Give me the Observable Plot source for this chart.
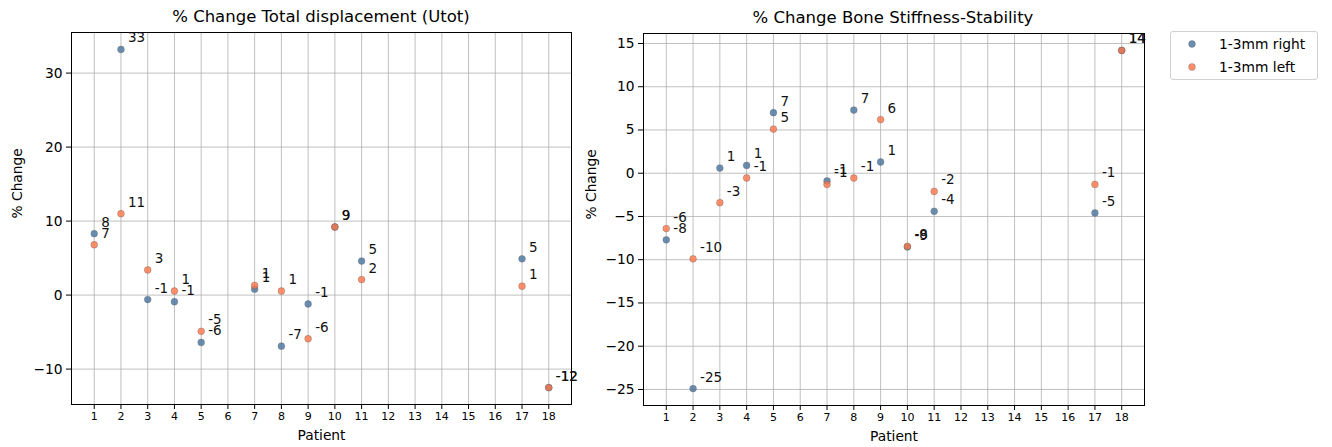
<!DOCTYPE html>
<html>
<head>
<meta charset="utf-8">
<script src="https://cdn.jsdelivr.net/npm/d3@7"></script>
<script src="https://cdn.jsdelivr.net/npm/@observablehq/plot@0.6"></script>
<style>
  html, body { margin: 0; padding: 0; background: #fff; }
  #root { position: relative; width: 1332px; height: 447px; font-family: "DejaVu Sans", sans-serif; color: #000; }
  .panel { position: absolute; top: 0; }
  .title { position: absolute; width: 600px; font-size: 16.5px; text-align: center; white-space: nowrap; line-height: 20px; }
  .legend { position: absolute; left: 1170px; top: 31px; width: 148px; height: 49px; border: 1px solid #d0d0d0; border-radius: 3px; box-sizing: border-box; font-size: 13.8px; background: #fff; }
  .legend .row { position: absolute; left: 0; display: flex; align-items: center; }
  .legend svg { display: block; }
</style>
</head>
<body>
<div id="root"></div>
<script>
// ---- data ----
const patients = [1, 2, 3, 4, 5, 7, 8, 9, 10, 11, 17, 18];
const patientTicks = [1, 2, 3, 4, 5, 6, 7, 8, 9, 10, 11, 12, 13, 14, 15, 16, 17, 18];

const utotRight = [8.3, 33.2, -0.6, -0.9, -6.4, 0.8, -6.9, -1.2, 9.2, 4.6, 4.9, -12.5];
const utotLeft  = [6.8, 11.0, 3.4, 0.55, -4.9, 1.3, 0.55, -5.9, 9.2, 2.1, 1.2, -12.5];

const stiffRight = [-7.7, -24.9, 0.6, 0.9, 7.0, -0.9, 7.3, 1.3, -8.52, -4.4, -4.6, 14.2];
const stiffLeft  = [-6.4, -9.9, -3.4, -0.55, 5.1, -1.3, -0.55, 6.2, -8.45, -2.1, -1.3, 14.2];

const utotTicks = [-10, 0, 10, 20, 30];
const stiffTicks = [-25, -20, -15, -10, -5, 0, 5, 10, 15];

const seriesNames = ["1-3mm right", "1-3mm left"];
const seriesColors = ["#46739e", "#ff7447"];

const titles = ["% Change Total displacement (Utot)", "% Change Bone Stiffness-Stability"];
const xLabel = "Patient";
const yLabel = "% Change";

// ---- helpers ----
function pad(ext) { const r = ext[1] - ext[0]; return [ext[0] - 0.05 * r, ext[1] + 0.05 * r]; }

function rows(right, left) {
  const out = [];
  patients.forEach((p, i) => out.push({patient: p, value: right[i], series: seriesNames[0]}));
  patients.forEach((p, i) => out.push({patient: p, value: left[i], series: seriesNames[1]}));
  return out;
}

function panel(data, yTicks, opts) {
  const yExt = pad(d3.extent(data, d => d.value));
  const xExt = pad(d3.extent(patients));
  return Plot.plot({
    width: opts.width,
    height: 447,
    marginLeft: opts.marginLeft,
    marginRight: opts.marginRight,
    marginTop: opts.marginTop,
    marginBottom: opts.marginBottom,
    style: {fontFamily: "DejaVu Sans, sans-serif", color: "#000", background: "transparent", overflow: "visible"},
    x: {domain: xExt},
    y: {domain: yExt},
    color: {domain: seriesNames, range: seriesColors},
    marks: [
      Plot.gridX(patientTicks, {stroke: "#b0b0b0", strokeOpacity: 1, strokeWidth: 0.8}),
      Plot.gridY(yTicks, {stroke: "#b0b0b0", strokeOpacity: 1, strokeWidth: 0.8}),
      Plot.axisX({ticks: patientTicks, tickFormat: d => String(d), tickSize: 5, tickPadding: 3, fontSize: 11, label: null}),
      Plot.axisY({ticks: yTicks, tickSize: 5, tickPadding: 4, fontSize: 13.8, label: null}),
      Plot.text([xLabel], {text: d => d, frameAnchor: "bottom", dy: 31, lineAnchor: "middle", fontSize: 13.8, fill: "#000"}),
      Plot.text([yLabel], {text: d => d, frameAnchor: "left", dx: opts.yLabelDx, rotate: -90, lineAnchor: "middle", fontSize: 13.8, fill: "#000"}),
      Plot.dot(data, {x: "patient", y: "value", fill: "series", fillOpacity: 0.8, r: 3.4,
        stroke: "#555", strokeOpacity: 0.55, strokeWidth: 0.6}),
      Plot.text(data, {x: "patient", y: "value", text: d => String(Math.round(d.value) || 0),
        dx: 7, dy: -7, textAnchor: "start", lineAnchor: "bottom", fontSize: 13.5, fill: "#111"}),
      Plot.frame({stroke: "#000", strokeWidth: 1})
    ]
  });
}

const root = document.getElementById("root");

const left = panel(rows(utotRight, utotLeft), utotTicks,
  {width: 590, marginLeft: 71, marginRight: 19, marginTop: 32, marginBottom: 43, yLabelDx: -54});
const leftWrap = document.createElement("div");
leftWrap.className = "panel"; leftWrap.style.left = "0px";
leftWrap.appendChild(left); root.appendChild(leftWrap);

const right = panel(rows(stiffRight, stiffLeft), stiffTicks,
  {width: 580, marginLeft: 63, marginRight: 16, marginTop: 33, marginBottom: 42, yLabelDx: -52});
const rightWrap = document.createElement("div");
rightWrap.className = "panel"; rightWrap.style.left = "580px";
rightWrap.appendChild(right); root.appendChild(rightWrap);

// titles (centered over each frame)
[[titles[0], 321, 7], [titles[1], 893, 8]].forEach(([t, cx, top]) => {
  const d = document.createElement("div");
  d.className = "title"; d.textContent = t;
  d.style.left = (cx - 300) + "px"; d.style.top = top + "px";
  root.appendChild(d);
});

// legend
const lg = document.createElement("div");
lg.className = "legend";
seriesNames.forEach((name, i) => {
  const row = document.createElement("div");
  row.className = "row";
  row.style.top = (4 + i * 23) + "px";
  row.innerHTML = `<svg width="44" height="16"><circle cx="21" cy="8" r="3.4" fill="${seriesColors[i]}" fill-opacity="0.8" stroke="#555" stroke-opacity="0.55" stroke-width="0.6"></circle></svg><span style="margin-left:4px">${name}</span>`;
  lg.appendChild(row);
});
root.appendChild(lg);
</script>
</body>
</html>
